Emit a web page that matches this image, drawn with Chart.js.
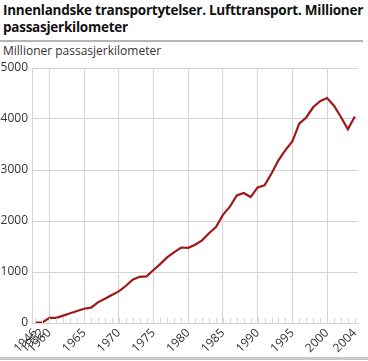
<!DOCTYPE html>
<html>
<head>
<meta charset="utf-8">
<script src="https://cdn.jsdelivr.net/npm/chart.js@4"></script>
<style>
  html, body { margin: 0; padding: 0; background: #fff; }
  body { width: 368px; height: 361px; position: relative; overflow: hidden; font-family: "Open Sans", sans-serif; }
  .title { position: absolute; left: 3px; top: 2px; font-weight: bold; font-size: 13.5px; line-height: 17px; color: #111; letter-spacing: -0.25px; white-space: nowrap; }
  .rule-top { position: absolute; left: 0; top: 40px; width: 363px; height: 1.5px; background: #b5b5b5; }
  .rule-bottom { position: absolute; left: 0; top: 357px; width: 368px; height: 3px; background: #c8c8c8; }
  .ylabel { position: absolute; left: 3px; top: 42px; font-size: 12px; color: #333; white-space: nowrap; }
  .chart-container { position: absolute; left: 0; top: 43px; width: 368px; height: 314px; }
</style>
</head>
<body>
<div class="title">Innenlandske transportytelser. Lufttransport. Millioner<br>passasjerkilometer</div>
<div class="rule-top"></div>
<div class="ylabel">Millioner passasjerkilometer</div>
<div class="chart-container"><canvas id="airChart"></canvas></div>
<div class="rule-bottom"></div>
<script>
const years = ['1946', '1952', '1960', '1961', '1962', '1963', '1964', '1965', '1966', '1967', '1968', '1969',
    '1970', '1971', '1972', '1973', '1974', '1975', '1976', '1977', '1978', '1979', '1980', '1981', '1982',
    '1983', '1984', '1985', '1986', '1987', '1988', '1989', '1990', '1991', '1992', '1993', '1994', '1995',
    '1996', '1997', '1998', '1999', '2000', '2001', '2002', '2003', '2004'];
const passengerKm = [10, 10, 100, 100, 145, 190, 235, 280, 300, 405, 475, 550,
    620, 725, 850, 905, 915, 1040, 1160, 1290, 1390, 1480, 1475, 1535, 1620,
    1760, 1880, 2120, 2280, 2500, 2550, 2470, 2660, 2700, 2930, 3190, 3390, 3560,
    3910, 4030, 4230, 4350, 4410, 4260, 4040, 3800, 4050];
const xTickLabels = ['1946', '1952', '1960', '1965', '1970', '1975', '1980', '1985', '1990', '1995', '2000', '2004'];
const yTickValues = [0, 1000, 2000, 3000, 4000, 5000];

const gridGrey = '#d4d4d4';

// small ticks pointing up into the plot, one per category
const innerTicks = {
    id: 'innerTicks',
    afterDatasetsDraw(chart) {
        const x = chart.scales.x;
        const ctx = chart.ctx;
        const bottom = chart.chartArea.bottom;
        ctx.save();
        ctx.strokeStyle = gridGrey;
        ctx.lineWidth = 1;
        for (let i = 0; i < years.length; i++) {
            const px = Math.round(x.getPixelForTick(i)) + 0.5;
            ctx.beginPath();
            ctx.moveTo(px, bottom - 5);
            ctx.lineTo(px, bottom);
            ctx.stroke();
        }
        ctx.restore();
    }
};

const ctx = document.getElementById('airChart').getContext('2d');
new Chart(ctx, {
    type: 'line',
    data: {
        labels: years,
        datasets: [{
            data: passengerKm,
            borderColor: '#a01818',
            borderWidth: 2.2,
            pointRadius: 0,
            tension: 0,
            fill: false
        }]
    },
    options: {
        responsive: true,
        maintainAspectRatio: false,
        animation: false,
        layout: { padding: { top: 25, right: 1, left: 0, bottom: 0 } },
        plugins: {
            legend: { display: false },
            tooltip: { enabled: false }
        },
        scales: {
            x: {
                offset: true,
                afterFit: s => { s.height = 34; },
                grid: {
                    offset: false,
                    drawTicks: false,
                    color: c => {
                        const y = c.tick ? Number(c.tick.label) : 0;
                        return (y >= 1960 && y % 5 === 0 && y <= 2000) ? gridGrey : 'rgba(0,0,0,0)';
                    }
                },
                border: { color: gridGrey },
                ticks: {
                    autoSkip: false,
                    maxRotation: 45,
                    minRotation: 45,
                    padding: 3,
                    color: '#333',
                    font: { family: 'Open Sans', size: 12 },
                    callback: function (val) {
                        const label = this.getLabelForValue(val);
                        return xTickLabels.includes(label) ? label : '';
                    }
                }
            },
            y: {
                min: yTickValues[0],
                max: yTickValues[yTickValues.length - 1],
                afterFit: s => { s.width = 32; },
                grid: { color: gridGrey, drawTicks: false },
                border: { color: gridGrey },
                ticks: {
                    stepSize: 1000,
                    padding: 4,
                    color: '#333',
                    font: { family: 'Open Sans', size: 12 },
                    callback: v => String(v)
                }
            }
        }
    },
    plugins: [innerTicks]
});
</script>
</body>
</html>
